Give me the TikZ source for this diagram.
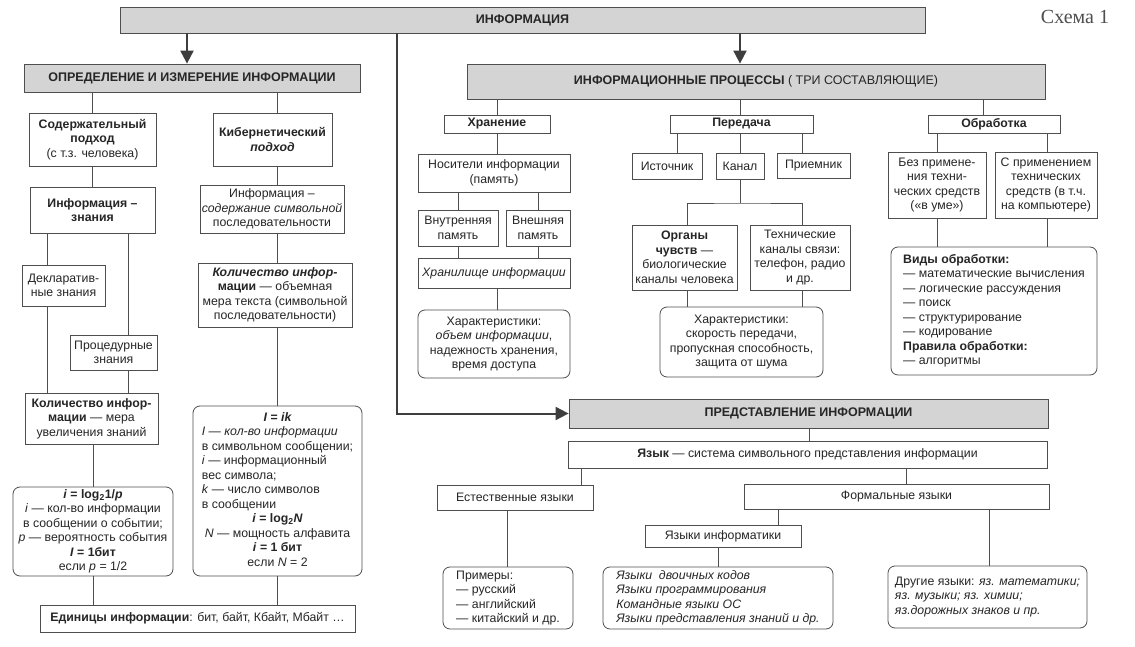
\documentclass[tikz,border=0pt]{standalone}
\usepackage{fontspec}
\setmainfont{Liberation Sans}
\newfontfamily\schemefont{Liberation Serif}
\usetikzlibrary{arrows.meta}
\definecolor{ink}{HTML}{262626}
\definecolor{edge}{HTML}{4E4E4E}
\definecolor{shade}{HTML}{D4D4D4}

\tikzset{
  box/.style={draw=edge, line width=0.8pt, fill=white, text=ink, align=center,
    inner sep=2pt, font=\fontsize{12.3}{14.5}\selectfont},
  rbox/.style={box, rounded corners=7pt},
  headbox/.style={box, fill=shade, font=\fontsize{12.5}{14}\selectfont\bfseries},
  link/.style={draw=edge, line width=0.8pt},
  bigarrow/.style={draw=edge!80!black, line width=2pt,
    -{Triangle[length=13pt,width=13pt]}}
}

\begin{document}
\begin{tikzpicture}[x=1pt, y=-1pt]
    \fill[white] (0,0) rectangle (1135,647);
    \useasboundingbox (0,0) rectangle (1135,647);

    % headers
    \node[headbox, minimum width=805pt, minimum height=26pt] (top) at (522.5,20) {ИНФОРМАЦИЯ};
    \node[text=edge, font=\schemefont\fontsize{20}{22}\selectfont] (scheme) at (1075,17) {Схема 1};
    \node[headbox, minimum width=336pt, minimum height=28pt] (defn) at (192,78) {ОПРЕДЕЛЕНИЕ И ИЗМЕРЕНИЕ ИНФОРМАЦИИ};
    \node[headbox, minimum width=578pt, minimum height=35pt] (proc) at (756,81.5)
        {ИНФОРМАЦИОННЫЕ ПРОЦЕССЫ {\mdseries( ТРИ СОСТАВЛЯЮЩИЕ)}};
    \node[headbox, minimum width=479pt, minimum height=29pt] (repr) at (808.5,413.5)
        {ПРЕДСТАВЛЕНИЕ ИНФОРМАЦИИ};

    % definition and measurement
    \node[box, minimum width=127pt, minimum height=53pt] (content) at (92.5,139.5)
        {\textbf{Содержательный}\\\textbf{подход}\\(с т.з. человека)};
    \node[box, minimum width=119pt, minimum height=53pt] (cyber) at (272.5,139.5)
        {\textbf{Кибернетический}\\\textbf{\textit{подход}}};
    \node[box, minimum width=125pt, minimum height=46pt] (know) at (92.5,210)
        {\textbf{Информация –}\\\textbf{знания}};
    \node[box, inner sep=1pt, minimum width=144pt, minimum height=48pt] (symcontent) at (272,209)
        {Информация –\\\textit{содержание символьной}\\последовательности};
    \node[box, minimum width=83pt, minimum height=41pt] (decl) at (63.5,285.5)
        {Декларатив-\\ные знания};
    \node[box, minimum width=87pt, minimum height=35pt] (procknow) at (113.5,352.5)
        {Процедурные\\знания};
    \node[box, minimum width=133pt, minimum height=51pt] (qtyL) at (91.5,418.5)
        {\textbf{Количество инфор-}\\\textbf{мации} — мера\\увеличения знаний};
    \node[box, minimum width=154pt, minimum height=64pt] (qtyR) at (275,295)
        {\textbf{\textit{Количество инфор-}}\\\textbf{мации} — объемная\\мера текста (символьной\\последовательности)};
    \node[rbox, inner sep=1pt, minimum width=160pt, minimum height=89pt] (logp) at (93,531.5)
        {\textbf{\textit{i} = log\textsubscript{2}1/\textit{p}}\\\textit{i} — кол-во информации\\в сообщении о событии;\\
         \textit{p} — вероятность события\\\textbf{\textit{I} = 1бит}\\если \textit{p} = 1/2};
    \node[rbox, minimum width=169pt, minimum height=170pt] (ik) at (277.5,491) {%
        \begin{tabular}{@{}l@{}}
        \multicolumn{1}{@{}c@{}}{\bfseries\itshape I = ik}\\
        \itshape I — кол-во информации\\
        в символьном сообщении;\\
        \textit{i} — информационный\\
        вес символа;\\
        \textit{k} — число символов\\
        в сообщении\\
        \multicolumn{1}{@{}c@{}}{\bfseries\textit{i} = log\textsubscript{2}\textit{N}}\\
        \multicolumn{1}{@{}c@{}}{\textit{N} — мощность алфавита}\\
        \multicolumn{1}{@{}c@{}}{\bfseries\textit{i} = 1 бит}\\
        \multicolumn{1}{@{}c@{}}{если \textit{N} = 2}
        \end{tabular}};
    \node[box, minimum width=315pt, minimum height=27pt] (units) at (197.5,618.5)
        {\textbf{Единицы информации}: бит, байт, Кбайт, Мбайт …};

    % storage
    \node[box, minimum width=106pt, minimum height=18pt] (store) at (497,124) {\textbf{Хранение}};
    \node[box, minimum width=152pt, minimum height=38pt] (media) at (494,173) {Носители информации\\(память)};
    \node[box, minimum width=80pt, minimum height=36pt] (inmem) at (458,228) {Внутренняя\\память};
    \node[box, minimum width=64pt, minimum height=36pt] (exmem) at (538,228) {Внешняя\\память};
    \node[box, minimum width=152pt, minimum height=30pt] (storage) at (494,273) {\textit{Хранилище информации}};
    \node[rbox, minimum width=152pt, minimum height=68pt] (storchar) at (494,344)
        {Характеристики:\\\textit{объем информации},\\надежность хранения,\\время доступа};

    % transmission
    \node[box, minimum width=143pt, minimum height=18pt] (transm) at (741.5,124) {\textbf{Передача}};
    \node[box, minimum width=70pt, minimum height=26pt] (source) at (667,166) {Источник};
    \node[box, minimum width=48pt, minimum height=26pt] (channel) at (740,166) {Канал};
    \node[box, minimum width=73pt, minimum height=25pt] (receiver) at (813.5,165.5) {Приемник};
    \node[box, minimum width=105pt, minimum height=65pt] (senses) at (684.5,257.5)
        {\textbf{Органы}\\\textbf{чувств} —\\биологические\\каналы человека};
    \node[box, minimum width=100pt, minimum height=65pt] (tech) at (800,257.5)
        {Технические\\каналы связи:\\телефон, радио\\и др.};
    \node[rbox, minimum width=163pt, minimum height=70pt] (transchar) at (741.5,342)
        {Характеристики:\\скорость передачи,\\пропускная способность,\\защита от шума};

    % processing
    \node[box, minimum width=132pt, minimum height=18pt] (procg) at (994,124) {\textbf{Обработка}};
    \node[box, inner sep=1pt, minimum width=98pt, minimum height=66pt] (nontech) at (937,185)
        {Без примене-\\ния техни-\\ческих средств\\(«в уме»)};
    \node[box, minimum width=102pt, minimum height=66pt] (withtech) at (1046,185)
        {С применением\\технических\\средств (в т.ч.\\на компьютере)};
    \node[rbox, minimum width=206pt, minimum height=128pt] (kinds) at (994,311) {%
        \begin{tabular}{@{}l@{}}
        \textbf{Виды обработки:}\\
        — математические вычисления\\
        — логические рассуждения\\
        — поиск\\
        — структурирование\\
        — кодирование\\
        \textbf{Правила обработки:}\\
        — алгоритмы
        \end{tabular}};

    % representation
    \node[box, minimum width=479pt, minimum height=27pt] (lang) at (807.5,454.5)
        {\textbf{Язык} — система символьного представления информации};
    \node[box, minimum width=156pt, minimum height=25pt] (natural) at (515,497.5) {Естественные языки};
    \node[box, minimum width=305pt, minimum height=25pt] (formal) at (896.5,496.5) {Формальные языки};
    \node[box, minimum width=156pt, minimum height=22pt] (cslang) at (723,536) {Языки информатики};
    \node[rbox, minimum width=130pt, minimum height=62pt] (examples) at (508,598) {%
        \begin{tabular}{@{}l@{}}
        Примеры:\\— русский\\— английский\\— китайский и др.
        \end{tabular}};
    \node[rbox, minimum width=230pt, minimum height=62pt] (cslist) at (718,598) {%
        \begin{tabular}{@{}l@{}}
        \itshape Языки~ двоичных кодов\\\itshape Языки программирования\\
        \itshape Командные языки ОС\\\itshape Языки представления знаний и др.
        \end{tabular}};
    \node[rbox, minimum width=199pt, minimum height=62pt] (others) at (987.5,597) {%
        \begin{tabular}{@{}l@{}}
        Другие языки: \textit{яз. математики;}\\\itshape яз. музыки; яз. химии;\\
        \itshape яз.дорожных знаков и пр.
        \end{tabular}};

    % main arrows
    \draw[bigarrow] (top.south -| 187,0) -- (defn.north -| 187,0);
    \draw[bigarrow] (top.south -| 740,0) -- (proc.north -| 740,0);
    \draw[bigarrow] (top.south -| 397,0) |- (repr.west);

    % links
    \foreach \a/\b/\x in {defn/content/92, defn/cyber/277, content/know/92, know/decl/47,
        know/procknow/128, decl/qtyL/47, procknow/qtyL/128, qtyL/logp/93, logp/units/93,
        cyber/symcontent/277, symcontent/qtyR/277, qtyR/ik/277, ik/units/277,
        proc/store/497, proc/transm/740, proc/procg/983, store/media/497, media/inmem/458,
        media/exmem/538, inmem/storage/458, exmem/storage/538, storage/storchar/497,
        transm/source/677, transm/channel/740, transm/receiver/802, senses/transchar/687,
        tech/transchar/802, procg/nontech/937, procg/withtech/1047, nontech/kinds/937,
        withtech/kinds/1047, repr/lang/809, lang/natural/581, lang/formal/906,
        natural/examples/507, formal/cslang/778, formal/others/989, cslang/cslist/718}
        \draw[link] (\a.south -| \x,0) -- (\b.north -| \x,0);

    % channel fork
    \draw[link] (channel.south) -- (channel.south |- 0,203) coordinate (split);
    \draw[link] (senses.north -| 687,0) |- (split) -| (tech.north -| 802,0);
\end{tikzpicture}
\end{document}
